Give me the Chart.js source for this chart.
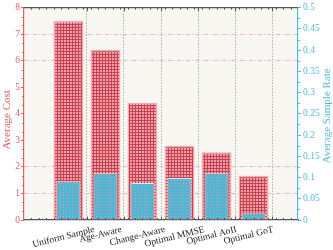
<!DOCTYPE html>
<html>
<head>
<meta charset="utf-8">
<script src="https://cdn.jsdelivr.net/npm/chart.js@4/dist/chart.umd.min.js"></script>
<style>
  html, body { margin: 0; padding: 0; background: #fff; }
  canvas { display: block; }
</style>
</head>
<body>
<canvas id="costChart" width="333" height="250"></canvas>
<script>
const categories = ["Uniform Sample", "Age-Aware", "Change-Aware", "Optimal MMSE", "Optimal AoII", "Optimal GoT"];
const avgCost = [7.5, 6.42, 4.42, 2.8, 2.55, 1.67];
const sampleRate = [0.091, 0.11, 0.087, 0.099, 0.11, 0.016];
const costTicks = [0, 1, 2, 3, 4, 5, 6, 7, 8];
const rateTicks = [0, 0.05, 0.1, 0.15, 0.2, 0.25, 0.3, 0.35, 0.4, 0.45, 0.5];

const RED = "#d9626b";
const CYAN = "#55bad5";
const FONT = "'Liberation Serif', 'DejaVu Serif', serif";

// little tiles for the hatched bar fills
const makePattern = (draw) => {
  const c = document.createElement("canvas");
  c.width = 3;
  c.height = 3;
  draw(c.getContext("2d"));
  return c.getContext("2d").createPattern(c, "repeat");
};
const redHatch = makePattern((g) => {
  g.fillStyle = "#eaa3aa";
  g.fillRect(0, 0, 3, 3);
  g.fillStyle = "#c93f4e";
  g.fillRect(0, 0, 3, 1);
  g.fillRect(0, 0, 1, 3);
});
const blueHatch = makePattern((g) => {
  g.fillStyle = "#52b5d1";
  g.fillRect(0, 0, 3, 3);
  g.fillStyle = "#c7a3b8";
  g.fillRect(0, 0, 1, 1);
});

const frame = {
  id: "frame",
  beforeDraw(chart) {
    const { ctx, chartArea: a } = chart;
    ctx.save();
    ctx.fillStyle = "#f9f7f1";
    ctx.fillRect(a.left, a.top, a.right - a.left, a.bottom - a.top);
    ctx.restore();
  },
  afterDraw(chart) {
    const { ctx, chartArea: a, scales } = chart;
    const x = scales.x, y = scales.y, y1 = scales.y1;
    const seg = (x0, y0, x1, y1_) => {
      ctx.beginPath();
      ctx.moveTo(x0, y0);
      ctx.lineTo(x1, y1_);
      ctx.stroke();
    };
    ctx.save();
    // top spine
    ctx.strokeStyle = "#555";
    ctx.lineWidth = 1.2;
    seg(a.left, a.top, a.right, a.top);

    // x minor + major ticks, top and bottom, inward
    ctx.lineWidth = 1;
    for (let k = -6; k <= 31; k++) {
      const px = Math.round(x.getPixelForValue(k * 0.2)) + 0.5;
      if (px < a.left + 2 || px > a.right - 2) continue;
      seg(px, a.top, px, a.top + 2);
      seg(px, a.bottom, px, a.bottom - 2);
    }
    for (let k = 0; k < 6; k++) {
      const px = Math.round(x.getPixelForValue(k + 0.5)) + 0.5;
      seg(px, a.top, px, a.top + 3.5);
      seg(px, a.bottom, px, a.bottom - 3.5);
    }

    // left minor ticks
    ctx.strokeStyle = RED;
    for (let k = 1; k < 24; k++) {
      if (k % 3 === 0) continue;
      const py = Math.round(y.getPixelForValue(k / 3)) + 0.5;
      seg(a.left, py, a.left - 2, py);
    }
    // right minor ticks
    ctx.strokeStyle = CYAN;
    for (let k = 1; k < 20; k += 2) {
      const py = Math.round(y1.getPixelForValue(k * 0.025)) + 0.5;
      seg(a.right, py, a.right + 2, py);
    }

    // rotated category labels, box centred under each bar
    ctx.font = "9.5px " + FONT;
    ctx.fillStyle = "#222";
    ctx.textAlign = "center";
    ctx.textBaseline = "middle";
    const rot = (14 * Math.PI) / 180;
    categories.forEach((label, i) => {
      const w = ctx.measureText(label).width;
      const h = 9;
      const boxH = w * Math.sin(rot) + h * Math.cos(rot);
      const cx = x.getPixelForValue(i) - 5;
      const cy = a.bottom + 5 + boxH / 2;
      ctx.save();
      ctx.translate(cx, cy);
      ctx.rotate(-rot);
      ctx.fillText(label, 0, 0);
      ctx.restore();
    });

    // axis titles, both reading bottom to top
    ctx.font = "11px " + FONT;
    const mid = (a.top + a.bottom) / 2;
    ctx.fillStyle = RED;
    ctx.save();
    ctx.translate(7.5, mid + 6);
    ctx.rotate(-Math.PI / 2);
    ctx.fillText("Average Cost", 0, 0);
    ctx.restore();
    ctx.fillStyle = CYAN;
    ctx.save();
    ctx.translate(chart.width - 6, mid + 2);
    ctx.rotate(-Math.PI / 2);
    ctx.fillText("Average Sample Rate", 0, 0);
    ctx.restore();
    ctx.restore();
  },
};

const ctx = document.getElementById("costChart").getContext("2d");
new Chart(ctx, {
  type: "bar",
  plugins: [frame],
  data: {
    datasets: [
      {
        label: "Average Sample Rate",
        data: categories.map((c, i) => ({ x: i, y: sampleRate[i] })),
        yAxisID: "y1",
        order: 0,
        grouped: false,
        backgroundColor: blueHatch,
        borderColor: "#d3ecf3",
        borderWidth: 1,
        categoryPercentage: 1,
        barPercentage: 0.65,
      },
      {
        label: "Average Cost",
        data: categories.map((c, i) => ({ x: i, y: avgCost[i] })),
        yAxisID: "y",
        order: 1,
        grouped: false,
        backgroundColor: redHatch,
        borderColor: "#eeaab1",
        borderWidth: 1.5,
        categoryPercentage: 1,
        barPercentage: 0.81,
      },
    ],
  },
  options: {
    responsive: false,
    animation: false,
    events: [],
    layout: { padding: { top: 4 } },
    plugins: {
      legend: { display: false },
      tooltip: { enabled: false },
    },
    scales: {
      x: {
        type: "linear",
        offset: false,
        min: -1.2,
        max: 6.2,
        afterBuildTicks: (s) => {
          s.ticks = categories.map((c, i) => ({ value: i + 0.5 }));
        },
        afterFit: (s) => {
          s.height = 30;
        },
        ticks: { display: false },
        border: { color: "#555", width: 1.2, dash: [1, 2] },
        grid: {
          offset: false,
          color: "#8f8f8f",
          lineWidth: 1,
          drawTicks: false,
        },
      },
      y: {
        position: "left",
        min: 0,
        max: 8,
        afterBuildTicks: (s) => {
          s.ticks = costTicks.map((v) => ({ value: v }));
        },
        afterFit: (s) => {
          s.width = 24;
        },
        border: { color: RED, width: 1.2, dash: [4, 2, 1, 2] },
        grid: {
          color: (c) => ([1, 2, 6, 7].includes(c.tick && c.tick.value) ? "#eab3b8" : "rgba(0,0,0,0)"),
          tickColor: RED,
          tickLength: 3,
          lineWidth: 1,
        },
        ticks: {
          color: RED,
          padding: 1,
          font: { family: FONT, size: 9.5 },
        },
      },
      y1: {
        position: "right",
        min: 0,
        max: 0.5,
        afterBuildTicks: (s) => {
          s.ticks = rateTicks.map((v) => ({ value: v }));
        },
        afterFit: (s) => {
          s.width = 35;
        },
        border: { color: CYAN, width: 1.2 },
        grid: {
          drawOnChartArea: false,
          tickColor: CYAN,
          tickLength: 3,
        },
        ticks: {
          color: CYAN,
          padding: 2,
          font: { family: FONT, size: 9.5 },
          callback: (v) => String(+v.toFixed(2)),
        },
      },
    },
  },
});
</script>
</body>
</html>
